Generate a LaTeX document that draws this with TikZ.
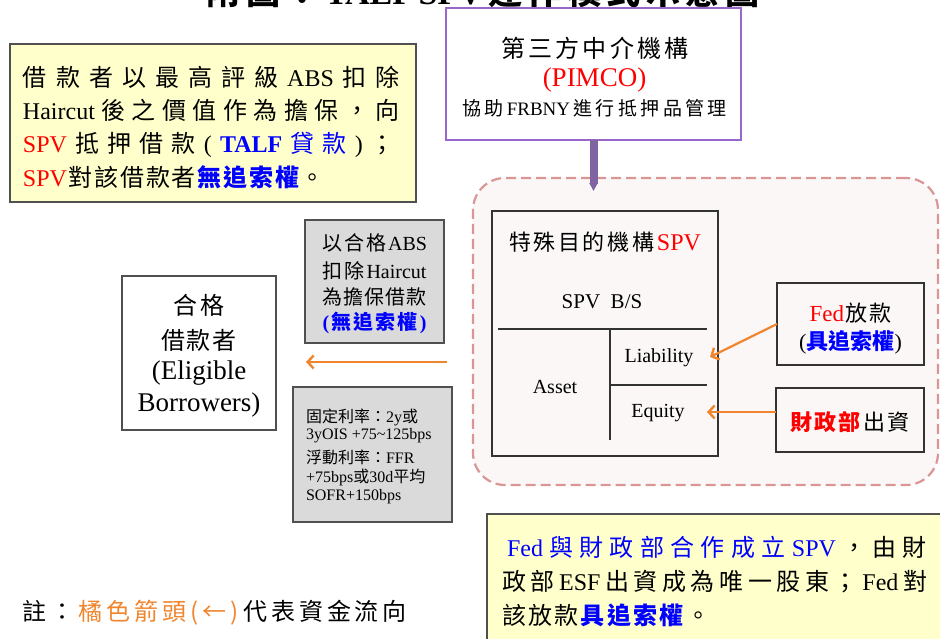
\documentclass[tikz,border=0pt]{standalone}
\usepackage{fontspec}
\setmainfont{Liberation Serif}
\newfontfamily\cjk{Noto Sans CJK TC}
\usetikzlibrary{arrows.meta}
\definecolor{yel}{HTML}{FFFFCC}
\definecolor{bord}{HTML}{505050}
\definecolor{gbox}{HTML}{DADADA}
\definecolor{purp}{HTML}{9966CC}
\definecolor{parr}{HTML}{8064A2}
\definecolor{pinkd}{HTML}{D99694}
\definecolor{pinkf}{HTML}{FBF7F7}
\definecolor{org}{HTML}{F0852D}
\def\sEnd{\sEnd}
\def\spreadit#1{\spreadB#1\sEnd}
\def\spreadB#1{{\cjk#1}\spreadC}
\def\spreadC#1{\def\sTmp{#1}\ifx\sTmp\sEnd\else\hfill{\cjk#1}\expandafter\spreadC\fi}
\newcommand\fs[2]{\fontsize{#1}{#2}\selectfont}
\begin{document}
\begin{tikzpicture}[x=1pt,y=-1pt,
  box/.style={draw=bord, line width=1.4pt, inner sep=0pt, outer sep=0pt, anchor=north west},
  yelbox/.style={box, fill=yel},
  graybox/.style={box, fill=gbox},
  whitebox/.style={box, fill=white},
  txt/.style={inner sep=0pt, outer sep=0pt},
  oarrow/.style={draw=org, line width=2.2pt, -{Straight Barb[length=6pt,width=13pt,line width=2.4pt]}},
  parrow/.style={draw=parr, line width=8pt, -{Triangle[width=8pt,length=8pt]}},
  spvline/.style={draw=black!80, line width=1.4pt}]
\useasboundingbox (0,0) rectangle (940,638);

% title (cut off at the top edge, as in the reference)
\node[txt, anchor=base] (title) at (483,4) {\fs{34}{34}\bfseries\makebox[553pt][s]{\spreadit{附圖：{\rmfamily TALF}{\rmfamily SPV}運作模式示意圖}}};

% SPV region
\node[box, draw=pinkd, fill=pinkf, line width=2.2pt, dash pattern=on 10pt off 5pt, rounded corners=32pt,
  minimum width=465pt, minimum height=307pt] (region) at (473,178) {};

% boxes
\node[yelbox, minimum width=406pt, minimum height=158pt] (yb1) at (10,44) {};
\node[whitebox, draw=purp, minimum width=295pt, minimum height=132pt] (pimco) at (446,8) {};
\node[box, draw=black!80, minimum width=226pt, minimum height=245pt] (spv) at (492,211) {};
\node[whitebox, fill=pinkf, draw=black!80, minimum width=147pt, minimum height=82pt] (fed) at (777,283) {};
\node[whitebox, fill=pinkf, draw=black!80, minimum width=148pt, minimum height=64pt] (tsk) at (776,388) {};
\node[graybox, minimum width=139pt, minimum height=123pt] (gb1) at (305,220) {};
\node[graybox, minimum width=159pt, minimum height=135pt] (gb2) at (293,387) {};
\node[whitebox, minimum width=154pt, minimum height=154pt] (borr) at (122,276) {};
\node[yelbox, minimum width=470pt, minimum height=140pt] (yb2) at (487,514) {};

% connectors
\coordinate (ptip) at (593.5,191);
\draw[parrow] (pimco.south) -- (ptip);
\coordinate (liabtip) at (710,357);
\draw[oarrow] (fed.west) -- (liabtip);
\coordinate (eqtip) at (707,412);
\draw[oarrow] (tsk.west |- eqtip) -- (eqtip);
\coordinate (lstart) at (447,362);
\coordinate (lend) at (306,362);
\draw[oarrow] (lstart) -- (lend);

% SPV balance sheet lines
\draw[spvline] (498,329) -- (707,329);
\draw[spvline] (610,329) -- (610,440);
\draw[spvline] (610,385) -- (707,385);

% yellow box 1 text
\node[txt, anchor=west] (y1a) at (23,77) {\fs{24}{24}\makebox[377pt][s]{\spreadit{借款者以最高評級{\rmfamily ABS}扣除}}};
\node[txt, anchor=west] (y1b) at (23,110) {\fs{24}{24}\makebox[377pt][s]{\spreadit{{\rmfamily Haircut}後之價值作為擔保，向}}};
\node[txt, anchor=west] (y1c) at (23,145) {\fs{24}{24}\makebox[372pt][s]{\spreadit{{\color{red}\rmfamily SPV}抵押借款{\rmfamily(}{\color{blue}\bfseries\rmfamily TALF}{\color{blue}貸}{\color{blue}款}{\rmfamily)}；}}};
\node[txt, anchor=west] (y1d) at (23,177) {\fs{24}{24}\makebox[302pt][s]{\spreadit{{\color{red}\rmfamily SPV}對該借款者}\hfill{\color{blue}\bfseries\spreadit{無追索權}}\hfill\spreadit{。}}};

% PIMCO text
\node[txt] (p1) at (595,48) {\fs{24}{24}\makebox[188pt][s]{\spreadit{第三方中介機構}}};
\node[txt] (p2) at (594.5,80) {\fs{27}{27}\color{red}(PIMCO)};
\node[txt] (p3) at (594.5,108) {\fs{19}{19}\makebox[265pt][s]{\spreadit{協助{\rmfamily FRBNY}進行抵押品管理}}};

% SPV text
\node[txt] (s1) at (605,242) {\fs{22}{22}\makebox[192pt][s]{\spreadit{特殊目的機構{\color{red}\rmfamily\fs{24}{24}SPV}}}};
\node[txt] (s2) at (602,302) {\fs{21}{21}SPV\ \ B/S};
\node[txt] (asset) at (555,387) {\fs{20}{20}Asset};
\node[txt] (liab) at (659,358) {\fs{20}{20}Liability};
\node[txt] (equi) at (658,413) {\fs{20}{20}Equity};

% Fed / Treasury text
\node[txt] (f1) at (850.5,313) {\fs{22}{22}\makebox[82pt][s]{{\color{red}\fs{23}{23}Fed}\hfill\spreadit{放款}}};
\node[txt] (f2) at (850.5,342) {\fs{22}{22}\makebox[103pt][s]{(\hfill{\color{blue}\bfseries\spreadit{具追索權}}\hfill)}};
\node[txt] (t1) at (850,422) {\fs{22}{22}\makebox[119pt][s]{{\color{red}\bfseries\spreadit{財政部}}\hfill\spreadit{出資}}};

% gray box 1 text
\node[txt] (g1a) at (374.5,243) {\fs{20}{20}\makebox[105pt][s]{\spreadit{以合格{\rmfamily ABS}}}};
\node[txt] (g1b) at (374.5,271) {\fs{20}{20}\makebox[104pt][s]{\spreadit{扣除{\rmfamily Haircut}}}};
\node[txt] (g1c) at (374.5,297) {\fs{20}{20}\makebox[104pt][s]{\spreadit{為擔保借款}}};
\node[txt] (g1d) at (374.5,323) {\fs{20}{20}\makebox[104pt][s]{\color{blue}\bfseries\spreadit{{\rmfamily(}無追索權{\rmfamily)}}}};

% gray box 2 text
\node[txt, anchor=west] (g2a) at (306,417) {\fs{16}{16}{\cjk 固定利率：}2y{\cjk 或}};
\node[txt, anchor=west] (g2b) at (306,436) {\fs{16}{16}3yOIS +75\textasciitilde125bps};
\node[txt, anchor=west] (g2c) at (306,457) {\fs{16}{16}{\cjk 浮動利率：}FFR};
\node[txt, anchor=west] (g2d) at (306,477) {\fs{16}{16}+75bps{\cjk 或}30d{\cjk 平均}};
\node[txt, anchor=west] (g2e) at (306,497) {\fs{16}{16}SOFR+150bps};

% borrowers text
\node[txt] (b1) at (199,305) {\fs{24}{24}\makebox[51pt][s]{\spreadit{合格}}};
\node[txt] (b2) at (199,340) {\fs{24}{24}\makebox[75pt][s]{\spreadit{借款者}}};
\node[txt] (b3) at (199,373) {\fs{27}{27}(Eligible};
\node[txt] (b4) at (199,405) {\fs{27}{27}Borrowers)};

% yellow box 2 text
\node[txt, anchor=west] (y2a) at (507,547) {\fs{24}{24}\makebox[420pt][s]{{\color{blue}\spreadit{{\rmfamily Fed}與財政部合作成立{\rmfamily SPV}}}\hfill\spreadit{，由財}}};
\node[txt, anchor=west] (y2b) at (502,582) {\fs{24}{24}\makebox[425pt][s]{\spreadit{政部{\rmfamily ESF}出資成為唯一股東；{\rmfamily Fed}對}}};
\node[txt, anchor=west] (y2c) at (502,615) {\fs{24}{24}\makebox[208pt][s]{\spreadit{該放款}\hfill{\color{blue}\bfseries\spreadit{具追索權}}\hfill\spreadit{。}}};

% note
\node[txt, anchor=west] (note) at (23,613) {\fs{24}{24}\makebox[384pt][s]{\spreadit{註：}\hfill{\color{org}\spreadit{橘色箭頭(←)}}\hfill\spreadit{代表資金流向}}};
\end{tikzpicture}
\end{document}
